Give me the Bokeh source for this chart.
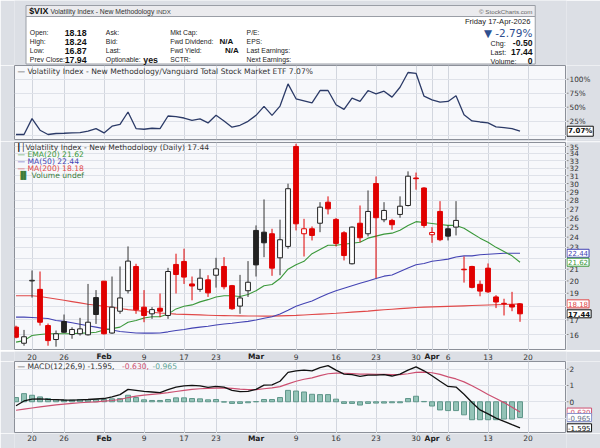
import numpy as np
from bokeh.plotting import figure
from bokeh.layouts import column, row
from bokeh.models import Range1d, FixedTicker, Label, ColumnDataSource, Grid, LogScale
from bokeh.embed import file_html
from bokeh.resources import INLINE
from bokeh.core.properties import value

# ---------------- data ----------------
dates = ["2026-01-15", "2026-01-16", "2026-01-20", "2026-01-21", "2026-01-22", "2026-01-23",
         "2026-01-26", "2026-01-27", "2026-01-28", "2026-01-29", "2026-01-30",
         "2026-02-02", "2026-02-03", "2026-02-04", "2026-02-05", "2026-02-06",
         "2026-02-09", "2026-02-10", "2026-02-11", "2026-02-12", "2026-02-13",
         "2026-02-17", "2026-02-18", "2026-02-19", "2026-02-20",
         "2026-02-23", "2026-02-24", "2026-02-25", "2026-02-26", "2026-02-27",
         "2026-03-02", "2026-03-03", "2026-03-04", "2026-03-05", "2026-03-06",
         "2026-03-09", "2026-03-10", "2026-03-11", "2026-03-12", "2026-03-13",
         "2026-03-16", "2026-03-17", "2026-03-18", "2026-03-19", "2026-03-20",
         "2026-03-23", "2026-03-24", "2026-03-25", "2026-03-26", "2026-03-27",
         "2026-03-30", "2026-03-31", "2026-04-01", "2026-04-02",
         "2026-04-06", "2026-04-07", "2026-04-08", "2026-04-09", "2026-04-10",
         "2026-04-13", "2026-04-14", "2026-04-15", "2026-04-16", "2026-04-17"]

opens = [16.50, 15.43, 20.00, 19.31, 16.61, 15.67, 16.89, 16.00, 16.05, 15.98, 18.66,
         19.98, 16.10, 17.63, 19.20, 21.24, 17.93, 17.44, 17.85, 17.32, 21.42,
         21.69, 19.75, 19.31, 20.09, 20.48, 21.24, 19.61, 18.01, 19.20,
         24.68, 24.50, 24.34, 22.02, 23.09, 35.01, 24.34, 24.85, 25.43, 27.76,
         25.84, 24.44, 21.48, 25.43, 24.34, 30.00, 25.80, 25.73, 26.38, 27.38,
         30.70, 29.45, 24.24, 26.71, 24.85, 25.02, 21.00, 21.24, 19.72,
         21.09, 18.71, 18.22, 18.11, 18.18]
highs = [16.60, 16.31, 20.89, 20.80, 16.75, 16.27, 17.39, 16.49, 17.15, 19.75, 19.25,
         20.00, 20.37, 21.24, 23.09, 21.48, 19.25, 17.93, 18.98, 21.12, 22.40,
         22.87, 20.37, 21.03, 20.48, 22.02, 22.08, 19.67, 20.51, 21.72,
         25.20, 28.08, 24.85, 25.81, 29.98, 35.40, 25.90, 25.09, 27.76, 28.44,
         26.00, 24.60, 25.09, 27.38, 29.15, 30.90, 27.76, 25.90, 28.44, 31.56,
         31.40, 29.55, 25.02, 27.88, 25.20, 27.88, 22.14, 21.30, 20.03,
         21.51, 18.85, 18.57, 19.11, 18.24]
lows = [15.75, 15.27, 18.66, 16.61, 15.27, 15.21, 16.11, 15.72, 15.93, 15.93, 16.72,
        16.00, 16.05, 17.44, 18.98, 17.44, 16.84, 17.08, 17.20, 17.08, 18.98,
        19.75, 18.45, 19.11, 18.71, 19.45, 19.31, 17.73, 17.44, 18.71,
        20.37, 22.08, 20.43, 20.48, 22.87, 24.68, 22.14, 23.67, 24.50, 26.38,
        23.09, 21.78, 21.42, 23.50, 24.07, 20.23, 25.54, 24.75, 26.02, 27.27,
        29.24, 24.95, 23.44, 23.60, 23.67, 24.17, 19.86, 19.39, 18.76,
        19.03, 17.86, 17.32, 17.63, 16.87]
closes = [15.82, 15.85, 20.05, 16.84, 15.60, 16.05, 16.15, 16.34, 16.38, 16.84, 17.39,
          16.05, 17.93, 18.63, 21.72, 17.73, 17.32, 17.75, 17.63, 20.80, 20.54,
          20.32, 19.58, 20.23, 19.03, 21.03, 19.52, 17.81, 18.63, 19.89,
          21.38, 23.44, 21.09, 23.74, 29.36, 25.37, 24.85, 24.17, 27.19, 27.00,
          23.38, 22.23, 25.02, 23.94, 26.71, 26.02, 26.82, 25.27, 27.30, 30.93,
          30.61, 25.20, 24.47, 23.74, 24.10, 25.73, 20.95, 19.47, 19.17,
          19.11, 18.32, 18.18, 17.94, 17.44]

ema20 = [15.50, 15.60, 15.93, 16.00, 16.05, 16.05, 16.05, 16.05, 16.09, 16.10, 16.15,
         16.30, 16.40, 16.50, 16.84, 16.96, 17.14, 17.23, 17.23, 17.42, 17.80,
         18.00, 18.10, 18.33, 18.50, 18.70, 18.80, 18.80, 18.75, 18.90,
         19.20, 19.60, 19.70, 20.20, 21.00, 21.40, 21.70, 22.40, 22.80, 23.20,
         23.20, 23.30, 23.40, 23.50, 23.90, 24.10, 24.30, 24.40, 24.70, 25.20,
         25.60, 25.50, 25.40, 25.30, 25.20, 25.20, 24.90, 24.40, 23.90,
         23.50, 23.00, 22.60, 22.20, 21.62]
ma50 = [17.20, 17.20, 17.18, 17.14, 17.10, 16.96, 16.90, 16.80, 16.70, 16.60, 16.50,
        16.40, 16.30, 16.20, 16.15, 16.10, 16.09, 16.09, 16.10, 16.18, 16.27,
        16.34, 16.43, 16.50, 16.56, 16.65, 16.72, 16.77, 16.84, 16.90,
        17.00, 17.12, 17.23, 17.42, 17.70, 18.00, 18.20, 18.40, 18.68, 18.96,
        19.20, 19.40, 19.60, 19.80, 20.00, 20.20, 20.40, 20.50, 20.80, 21.10,
        21.40, 21.50, 21.70, 21.80, 21.90, 22.10, 22.20, 22.20, 22.30,
        22.35, 22.40, 22.44, 22.44, 22.44]
ma200 = [18.80, 18.80, 18.80, 18.75, 18.65, 18.55, 18.45, 18.35, 18.25, 18.15, 18.07,
         18.00, 17.92, 17.83, 17.75, 17.68, 17.62, 17.56, 17.50, 17.46, 17.42,
         17.40, 17.38, 17.36, 17.34, 17.32, 17.31, 17.30, 17.29, 17.28,
         17.28, 17.27, 17.27, 17.29, 17.31, 17.33, 17.36, 17.39, 17.42, 17.45,
         17.48, 17.52, 17.56, 17.60, 17.64, 17.69, 17.74, 17.78, 17.82, 17.86,
         17.90, 17.93, 17.95, 17.97, 17.99, 18.01, 18.03, 18.05, 18.07,
         18.09, 18.11, 18.13, 18.15, 18.18]

ratio_pct = [1.2, 1.2, 29.6, 8.9, 1.2, 3.0, 3.5, 4.1, 4.7, 7.1, 11.8,
             4.1, 16.0, 19.5, 41.4, 11.8, 10.6, 12.4, 11.8, 34.3, 33.1,
             30.7, 26.6, 29.0, 21.9, 35.5, 25.4, 14.2, 17.7, 24.8,
             35.5, 51.4, 35.5, 52.0, 91.6, 65.0, 61.5, 57.9, 79.8, 79.8,
             54.4, 46.1, 66.2, 60.3, 79.8, 73.9, 78.6, 68.0, 85.7, 112.0,
             110.5, 69.7, 63.2, 59.1, 60.3, 70.3, 36.6, 25.4, 23.6,
             21.9, 14.8, 13.6, 11.8, 7.07]

macd = [-0.24, 0.05, 0.16, 0.18, 0.15, 0.13, 0.11, 0.10, 0.12, 0.14, 0.17,
        0.20, 0.30, 0.44, 0.76, 0.70, 0.64, 0.60, 0.56, 0.74, 0.90,
        0.98, 1.00, 0.98, 0.88, 0.94, 0.90, 0.70, 0.62, 0.64,
        0.76, 1.02, 1.04, 1.26, 1.80, 1.90, 1.94, 1.90, 2.10, 2.22,
        1.94, 1.70, 1.66, 1.56, 1.64, 1.64, 1.66, 1.58, 1.70, 1.94,
        2.14, 1.90, 1.60, 1.26, 0.94, 0.90, 0.46, -0.04, -0.50,
        -0.74, -1.00, -1.20, -1.40, -1.595]
signal = [-0.52, -0.45, -0.38, -0.31, -0.25, -0.19, -0.14, -0.10, -0.06, -0.03, 0.00,
          0.04, 0.08, 0.14, 0.26, 0.35, 0.41, 0.46, 0.50, 0.56, 0.63,
          0.70, 0.76, 0.80, 0.82, 0.84, 0.85, 0.82, 0.78, 0.75,
          0.75, 0.80, 0.85, 0.93, 1.10, 1.26, 1.38, 1.47, 1.60, 1.72,
          1.76, 1.75, 1.73, 1.70, 1.69, 1.68, 1.68, 1.66, 1.67, 1.72,
          1.80, 1.82, 1.78, 1.68, 1.53, 1.40, 1.22, 0.98, 0.72,
          0.45, 0.20, -0.05, -0.33, -0.630]
hist = [0.26, 0.50, 0.40, 0.30, 0.20, 0.14, 0.10, 0.10, 0.14, 0.14, 0.14,
        0.14, 0.18, 0.20, 0.40, 0.26, 0.12, 0.08, 0.08, 0.14, 0.24,
        0.24, 0.20, 0.18, 0.12, 0.14, -0.02, -0.10, -0.10, -0.06,
        0.01, 0.14, 0.14, 0.26, 0.70, 0.66, 0.60, 0.46, 0.44, 0.44,
        0.16, -0.10, -0.10, -0.20, -0.10, -0.08, -0.08, -0.06, -0.06, 0.20,
        0.34, 0.02, -0.26, -0.50, -0.54, -0.54, -0.80, -1.10, -1.10,
        -1.10, -1.10, -1.06, -1.06, -0.965]

tick_pos = [2, 6, 11, 16, 21, 25, 30, 35, 40, 45, 50, 52, 54, 59, 64]
tick_labels = ["20", "26", "Feb", "9", "17", "23", "Mar", "9", "16", "23", "30", "Apr", "6", "13", "20"]
price_ticks = list(range(16, 36))
ratio_ticks = [0, 25, 50, 75, 100]
ratio_labels = ["0%", "25%", "50%", "75%", "100%"]
macd_ticks = [-1, 0, 1, 2]
macd_labels = ["-1", "0", "1", "2"]

# ---------------- styling ----------------
GREY = "#dcdfe5"
PANEL = "#f7f8fb"
GRID = "#dfe2e9"
VGRID = "#d2d6de"
FRAME = "#8c9099"
FONT = "DejaVu Sans"
HFONT = "Liberation Sans"
FS = "7.6px"
RED = "#e00000"
BLK = "#222222"
C_EMA = "#3a983a"
C_MA50 = "#4343b3"
C_MA200 = "#e04848"
C_SIG = "#cc4f70"
C_HIST = "#5fa596"

n = len(dates)
idx = list(range(n))
XMIN, XMAX = -0.19, 68.81
xr = Range1d(XMIN, XMAX)
TOTW = 600
LB = 14          # left border
GW = 34          # right gutter
PW = TOTW - GW   # panel figure width (frame 552 px)


def panel(height, yr, top, bottom, yticks, log=False):
    kw = dict(y_axis_type="log") if log else {}
    p = figure(width=PW, height=height, x_range=xr, y_range=yr, x_axis_location=None,
               y_axis_location=None, toolbar_location=None, output_backend="svg",
               min_border_left=LB, min_border_right=0, min_border_top=top,
               min_border_bottom=bottom, **kw)
    if log:
        p.y_scale = LogScale()
    p.grid.visible = False
    p.background_fill_color = PANEL
    p.border_fill_color = GREY
    p.outline_line_color = FRAME
    p.add_layout(Grid(dimension=0, ticker=FixedTicker(ticks=tick_pos), grid_line_color=VGRID))
    p.add_layout(Grid(dimension=1, ticker=FixedTicker(ticks=yticks), grid_line_color=GRID))
    return p


def gutter(height, yr, top, bottom, ticks, labels, log=False):
    kw = dict(y_axis_type="log") if log else {}
    g = figure(width=GW, height=height, x_range=Range1d(0, GW), y_range=yr, x_axis_location=None,
               y_axis_location=None, toolbar_location=None, output_backend="svg",
               min_border_left=0, min_border_right=0, min_border_top=top,
               min_border_bottom=bottom, **kw)
    if log:
        g.y_scale = LogScale()
    g.grid.visible = False
    g.outline_line_color = None
    g.background_fill_color = GREY
    g.border_fill_color = GREY
    src = ColumnDataSource(dict(x=[0] * len(ticks), x1=[2] * len(ticks), y=ticks, t=labels))
    g.segment(x0="x", y0="y", x1="x1", y1="y", source=src, line_color="#888888", line_width=1)
    g.text(x=3, y="y", text="t", source=src, text_font=value(FONT), text_font_size="7.3px",
           text_color="#333333", text_align="left", text_baseline="middle")
    return g


def strip(height, ymid):
    s = figure(width=TOTW, height=height, x_range=xr, y_range=Range1d(height, 0),
               x_axis_location=None, y_axis_location=None, toolbar_location=None,
               output_backend="svg", min_border_left=LB, min_border_right=GW,
               min_border_top=0, min_border_bottom=0)
    s.grid.visible = False
    s.outline_line_color = None
    s.background_fill_color = GREY
    s.border_fill_color = GREY
    bold = [t[0].isalpha() for t in tick_labels]
    d = ColumnDataSource(dict(x=[p for p, b in zip(tick_pos, bold) if not b],
                              t=[t for t, b in zip(tick_labels, bold) if not b]))
    m = ColumnDataSource(dict(x=[p for p, b in zip(tick_pos, bold) if b],
                              t=[t for t, b in zip(tick_labels, bold) if b]))
    s.text(x="x", y=ymid, text="t", source=d, text_font=value(FONT), text_font_size="7.5px",
           text_color="#333333", text_align="center", text_baseline="middle")
    s.text(x="x", y=ymid, text="t", source=m, text_font=value(FONT), text_font_size="7.5px",
           text_font_style="bold", text_color="#222222", text_align="center", text_baseline="middle")
    return s


def tag(g, y, text, color, tcolor=None, bold=False):
    g.add_layout(Label(x=0.5, y=y, text=text, text_font=FONT, text_font_size="7px",
                       text_color=tcolor or color, text_font_style="bold" if bold else "normal",
                       text_align="left", text_baseline="middle",
                       background_fill_color="#ffffff", border_line_color=color,
                       border_line_width=1, padding=1))


def legend(p, ytop, dy, x_off, text, color, bold=False):
    p.add_layout(Label(x=XMIN, y=ytop, x_offset=x_off, y_offset=-dy, text=text, text_font=FONT,
                       text_font_size=FS, text_color=color,
                       text_font_style="bold" if bold else "normal",
                       text_align="left", text_baseline="middle"))


# ---------------- header ----------------
HH = 65
hdr = figure(width=TOTW, height=HH, x_range=Range1d(0, TOTW), y_range=Range1d(HH, 0),
             x_axis_location=None, y_axis_location=None, toolbar_location=None,
             output_backend="svg", min_border=0)
hdr.grid.visible = False
hdr.outline_line_color = None
hdr.background_fill_color = GREY
hdr.border_fill_color = GREY
hdr.quad(left=12.5, right=566, top=5, bottom=16, fill_color="#ebebee", line_color="#9a9ea6")
hdr.quad(left=12.5, right=566, top=16, bottom=63.5, fill_color="#ffffff", line_color="#9a9ea6")


def hl(x, y, text, size="6.8px", style="normal", color="#222222", align="left", font=HFONT):
    hdr.add_layout(Label(x=x, y=y, text=text, text_font=font, text_font_size=size,
                         text_font_style=style, text_color=color, text_align=align,
                         text_baseline="middle"))


hl(16, 10.5, "$VIX", size="8.8px", style="bold", color="#111111")
hl(39, 10.8, "Volatility Index - New Methodology", size="6.8px", color="#333333")
hl(154, 11, "INDX", size="6.2px", color="#444444")
hl(563, 10.5, "\u00a9 StockCharts.com", size="6.2px", color="#666666", align="right")

rows = [32.3, 41, 50, 59]
for y, lab, val in zip(rows, ["Open:", "High:", "Low:", "Prev Close:"], ["18.18", "18.24", "16.87", "17.94"]):
    hl(16.7, y, lab)
    hl(54.5, y, val, size="8.8px", style="bold", color="#111111")
for y, lab in zip(rows, ["Ask:", "Bid:", "Last:", "Optionable:"]):
    hl(99.3, y, lab)
hl(140, rows[3], "yes", size="8.8px", style="bold", color="#111111")
for y, lab in zip(rows, ["Mkt Cap:", "Fwd Dividend:", "Fwd Yield:", "SCTR:"]):
    hl(169.3, y, lab)
hl(222.7, rows[1], "N/A", size="8px", style="bold", color="#111111")
hl(228.7, rows[2], "N/A", size="8px", style="bold", color="#111111")
for y, lab in zip(rows, ["P/E:", "EPS:", "Last Earnings:", "Next Earnings:"]):
    hl(252.3, y, lab)

hl(563, 21, "Friday  17-Apr-2026", size="7.6px", color="#222222", align="right")
hl(563, 32.3, "\u25bc -2.79%", size="10.5px", color="#2f4f8f", align="right", font=FONT)
for y, lab, val in zip([42.8, 51.7, 60.6], ["Chg:", "Last:", "Volume:"], ["-0.50", "17.44", "0"]):
    hl(517.5, y, lab, size="7.2px")
    hl(563, y, val, size="8.6px", style="bold", color="#111111", align="right")

# ---------------- relative performance panel ----------------
yr_ratio = Range1d(-7.7, 124.5)
pr = panel(76, yr_ratio, 0, 2, ratio_ticks)
pr.line(idx, ratio_pct, line_color="#2b3a67", line_width=1.3)
legend(pr, yr_ratio.end, 6.3, 3, "\u2014 Volatility Index - New Methodology/Vanguard Total Stock Market ETF 7.07%", "#333333")
gr = gutter(76, yr_ratio, 0, 2, ratio_ticks[1:], ratio_labels[1:])
tag(gr, ratio_pct[-1], "7.07%", "#111111", bold=True)

# ---------------- main candlestick panel ----------------
yr_main = Range1d(14.97, 35.59)
pm = panel(209, yr_main, 1, 0, price_ticks, log=True)

o = np.array(opens); c = np.array(closes); h = np.array(highs); l = np.array(lows)
prev = np.concatenate([[o[0]], c[:-1]])
col = np.where(c >= prev, BLK, RED)
fill = np.where(c > o, "#ffffff", col)
wick = np.where(c >= prev, "#333333", RED)
csrc = ColumnDataSource(dict(x=idx, o=o, c=c, h=h, l=l, top=np.maximum(o, c), bot=np.minimum(o, c),
                             col=col, fill=fill, wick=wick))

pm.line(idx, ma200, line_color=C_MA200, line_width=1.1)
pm.line(idx, ma50, line_color=C_MA50, line_width=1.1)
pm.line(idx, ema20, line_color=C_EMA, line_width=1.1)
pm.segment(x0="x", y0="l", x1="x", y1="h", source=csrc, line_color="wick", line_width=1)
pm.vbar(x="x", top="top", bottom="bot", width=0.6, source=csrc, fill_color="fill", line_color="col",
        line_width=1)

YT = yr_main.end
legend(pm, YT, 4.5, 2, "\u2503\u2502", "#111111", bold=True)
legend(pm, YT, 4.5, 11, "Volatility Index - New Methodology (Daily) 17.44", "#333333")
legend(pm, YT, 11.5, 3, "\u2014 EMA(20) 21.62", C_EMA)
legend(pm, YT, 19, 3, "\u2014 MA(50) 22.44", C_MA50)
legend(pm, YT, 26.3, 3, "\u2014 MA(200) 18.18", C_MA200)
legend(pm, YT, 33.3, 3, "\u2590\u258c Volume undef", "#3d7d3d")

main_ticks = [t for t in price_ticks if t not in (18, 22)]
gm = gutter(209, yr_main, 1, 0, main_ticks, [str(t) for t in main_ticks], log=True)
tag(gm, ma50[-1], "22.44", C_MA50)
tag(gm, ema20[-1], "21.62", C_EMA)
tag(gm, ma200[-1], "18.18", C_MA200)
tag(gm, closes[-1], "17.44", "#111111", bold=True)

# ---------------- MACD panel ----------------
yr_macd = Range1d(-1.945, 2.47)
pk = panel(72, yr_macd, 0, 0, macd_ticks)
pk.vbar(x=idx, top=hist, bottom=0, width=0.62, fill_color="#93c3b7", line_color="#5f968a", line_width=1)
pk.line(idx, signal, line_color=C_SIG, line_width=1.2)
pk.line(idx, macd, line_color="#111111", line_width=1.3)
legend(pk, yr_macd.end, 4.6, 3, "\u2014 MACD(12,26,9) -1.595,", "#333333")
legend(pk, yr_macd.end, 4.6, 107.6, "-0.630,", C_SIG)
legend(pk, yr_macd.end, 4.6, 138, "-0.965", C_HIST)
gk = gutter(72, yr_macd, 0, 0, macd_ticks[1:], macd_labels[1:])
tag(gk, signal[-1], "-0.630", C_SIG)
tag(gk, hist[-1], "-0.965", "#8a93cc", tcolor="#667088")
tag(gk, macd[-1], "-1.595", "#111111")

layout = column(hdr,
                row(pr, gr, spacing=0),
                row(pm, gm, spacing=0),
                strip(11, 5.2),
                row(pk, gk, spacing=0),
                strip(15, 4.8),
                spacing=0)
open("out.html", "w").write(file_html(layout, INLINE))
